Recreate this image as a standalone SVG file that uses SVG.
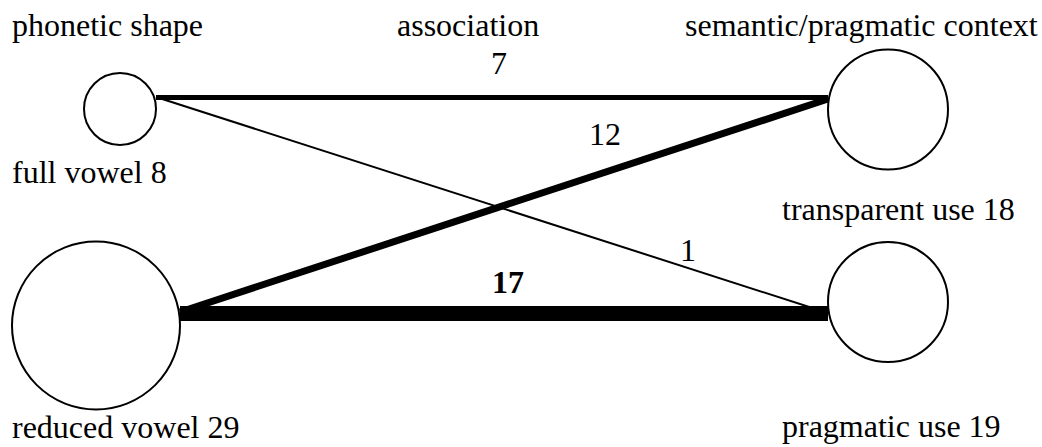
<svg xmlns="http://www.w3.org/2000/svg" width="1042" height="447" viewBox="0 0 1042 447">
<style>
text{font-family:"Times New Roman","Liberation Serif","DejaVu Serif",serif;font-size:32px;fill:#000}
.node{fill:#fff;stroke:#000;stroke-width:2}
.b{font-weight:bold}
</style>
<rect width="1042" height="447" fill="#fff"/>
<g id="headers">
<text x="12" y="36">phonetic shape</text>
<text x="397" y="36">association</text>
<text x="685" y="36">semantic/pragmatic context</text>
</g>
<g id="connectors" stroke="#000" fill="none">
<line x1="156" y1="97.5" x2="828" y2="97.5" stroke-width="5"/>
<line x1="156" y1="97" x2="828" y2="313" stroke-width="2"/>
<line x1="180" y1="312" x2="828" y2="99" stroke-width="7"/>
<line x1="180" y1="313.5" x2="828" y2="313.5" stroke-width="15"/>
</g>
<g id="edge-labels">
<text x="499" y="74" text-anchor="middle">7</text>
<text x="605" y="145" text-anchor="middle">12</text>
<text x="688" y="261" text-anchor="middle">1</text>
<text x="508" y="293" text-anchor="middle" class="b">17</text>
</g>
<g id="full-vowel">
<circle class="node" cx="120" cy="109" r="36"/>
<text x="12" y="183">full vowel 8</text>
</g>
<g id="reduced-vowel">
<circle class="node" cx="96" cy="325.5" r="84"/>
<text x="12" y="438">reduced vowel 29</text>
</g>
<g id="transparent-use">
<circle class="node" cx="888" cy="109.5" r="60"/>
<text x="782" y="220">transparent use 18</text>
</g>
<g id="pragmatic-use">
<circle class="node" cx="888" cy="302" r="60"/>
<text x="782" y="437">pragmatic use 19</text>
</g>
</svg>
